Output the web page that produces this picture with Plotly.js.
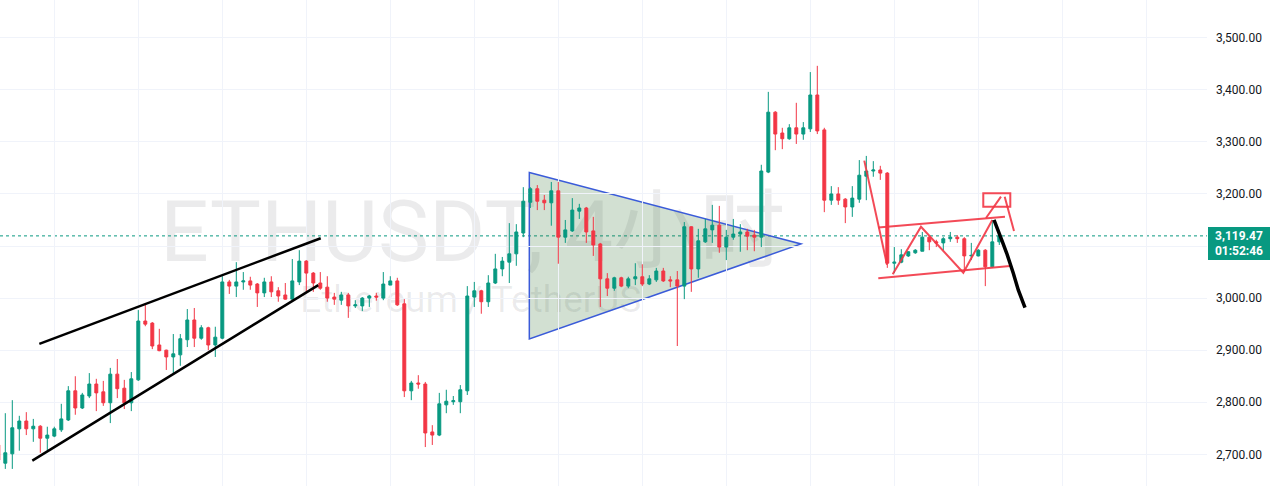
<!DOCTYPE html>
<html>
<head>
<meta charset="utf-8">
<script src="https://cdn.plot.ly/plotly-3.0.1.min.js"></script>
<style>html,body{margin:0;padding:0;background:#fff;}#chart{width:1270px;height:486px;}</style>
</head>
<body>
<div id="chart"></div>
<script>
// ETHUSDT 4h candles (index -1 .. 142)
const openP = [2718,2683,2701,2749,2764,2749,2754,2731,2735,2747,2766,2822,2789,2812,2835,2820,2799,2854,2827,2799,
2843,2956,2952,2910,2900,2887,2891,2920,2958,2923,2943,2910,2923,3031,3023,3031,3033,3027,3010,3031,
3014,3006,2998,3031,3071,3048,3029,3021,3002,2996,3006,2985,2985,3000,3004,3000,3025,3033,2989,2822,
2837,2835,2743,2737,2795,2801,2801,2822,3002,3014,2993,3029,3056,3069,3085,3125,3184,3210,3188,3183,
3206,3117,3129,3167,3173,3129,3104,3037,3019,3039,3023,3037,3041,3027,3035,3052,3035,3035,3023,3137,
3056,3108,3131,3140,3098,3117,3123,3127,3121,3117,3242,3357,3317,3306,3327,3315,3325,3390,3323,3188,
3200,3190,3175,3190,3234,3244,3246,3240,3067,3069,3081,3087,3090,3117,3108,3106,3114,3117,3114,3081,
3081,3092,3060,3108];
const highP = [2728,2779,2804,2774,2781,2768,2756,2753,2753,2797,2831,2850,2818,2856,2845,2841,2866,2883,2843,2858,
2977,2987,2954,2941,2901,2931,2931,2979,2981,2948,2945,2945,3042,3035,3069,3050,3041,3029,3039,3042,
3021,3029,3075,3092,3073,3050,3050,3042,3010,3012,3010,2996,3002,3006,3010,3050,3042,3039,2998,2841,
2852,2839,2756,2818,2824,2812,2833,3023,3031,3016,3044,3085,3079,3144,3142,3213,3213,3217,3198,3223,
3223,3150,3192,3181,3175,3156,3106,3048,3041,3041,3041,3067,3065,3044,3058,3058,3042,3052,3146,3138,
3133,3152,3179,3177,3131,3152,3142,3133,3131,3256,3396,3359,3327,3334,3375,3338,3434,3446,3327,3215,
3213,3192,3215,3265,3273,3263,3254,3242,3098,3094,3090,3094,3127,3119,3112,3117,3127,3121,3117,3106,
3094,3094,3150,3121];
const lowP = [2680,2672,2672,2707,2737,2724,2703,2708,2733,2743,2764,2776,2787,2808,2783,2793,2760,2808,2787,2783,
2841,2946,2902,2898,2862,2856,2870,2906,2906,2920,2900,2887,2921,3008,3002,3016,3016,2983,3002,3002,
2993,2997,2997,3025,3012,3012,3016,2993,2987,2987,2962,2981,2975,2983,2995,2996,3025,2985,2810,2804,
2826,2714,2718,2735,2779,2795,2779,2814,2983,2970,2983,3027,3042,3029,3062,3117,3173,3169,3169,3139,
3066,3106,3127,3152,3106,3081,2983,3004,3014,3021,3019,3025,3023,3025,3031,3031,3021,2908,2998,3012,
3039,3106,3106,3087,3073,3112,3089,3092,3090,3098,3240,3284,3286,3304,3296,3304,3319,3315,3165,3179,
3179,3144,3156,3183,3188,3233,3227,3058,3048,3067,3079,3085,3090,3092,3098,3092,3108,3106,3050,3073,
3080,3023,3058,3102];
const closeP = [2689,2703,2751,2764,2749,2754,2731,2737,2749,2768,2822,2789,2814,2835,2818,2799,2854,2826,2799,2845,
2956,2950,2908,2899,2887,2893,2922,2958,2923,2943,2910,2925,3031,3023,3031,3033,3025,3010,3031,3012,
3004,2998,3033,3071,3048,3029,3019,3000,2998,3006,2985,2987,3000,3004,3002,3027,3033,2987,2822,2837,
2835,2741,2737,2797,2802,2803,2824,3004,3014,2993,3029,3056,3071,3085,3127,3186,3210,3186,3183,3206,
3117,3131,3169,3173,3127,3102,3037,3019,3039,3023,3037,3041,3027,3037,3052,3033,3033,3023,3137,3056,
3110,3133,3140,3098,3117,3123,3127,3119,3117,3244,3357,3315,3306,3327,3315,3327,3390,3321,3188,3200,
3188,3175,3192,3236,3244,3246,3240,3067,3069,3083,3089,3092,3117,3108,3106,3114,3117,3114,3081,3082,
3092,3060,3108,3119.47];
const candleIdx = openP.map((_, i) => i - 1);

const lastPrice = 3119.47;
const lastLabel = "3,119.47";
const countdown = "01:52:46";
const priceTicks = [2700, 2800, 2900, 3000, 3100, 3200, 3300, 3400, 3500];
// the 3,100.00 label sits under the last-price tag, so it is left blank
const priceTickText = ["2,700.00", "2,800.00", "2,900.00", "3,000.00", "", "3,200.00", "3,300.00", "3,400.00", "3,500.00"];
const watermarkTitle = "ETHUSDT, 4小时";
const watermarkSub = "Ethereum / TetherUS";

// drawings (candle index, price)
const wedgeUpper = {x: [4.86, 45.06], y: [2912, 3115]};
const wedgeLower = {x: [3.86, 44.71], y: [2688, 3025]};
const triangle = {x: [74.86, 74.86, 113.67], y: [3241, 2921.5, 3104]};
const steepDrop = {x: [122.71, 125.96], y: [3264, 3064]};
const channelTop = {x: [124.71, 142.81], y: [3135.6, 3156.3]};
const channelBot = {x: [124.71, 143.53], y: [3038.1, 3061.7]};
const zigzag = {x: [126.77, 130.81, 136.86, 141.0], y: [3045.7, 3137.1, 3048.8, 3150]};
const peakMark = {x: [140.1, 142.24, 142.77, 144.1], y: [3153.8, 3194.7, 3194.7, 3128.9]};
const peakBox = {x: [139.71, 143.57], y: [3175.5, 3201.3]};
const forecast = {x: [141.24, 142.34, 143.06, 144.0, 144.71, 145.67], y: [3150, 3111.6, 3086.1, 3047.7, 3015.6, 2981.6]};

function pathOf(p, close) {
  let s = '';
  for (let i = 0; i < p.x.length; i++) s += (i ? ' L' : 'M') + p.x[i] + ',' + p.y[i];
  return close ? s + ' Z' : s;
}

const UP = '#089981', DOWN = '#f23645', RED = 'rgba(242,54,69,0.9)';

const trace = {
  type: 'candlestick',
  x: candleIdx, open: openP, high: highP, low: lowP, close: closeP,
  increasing: {line: {color: UP, width: 1}, fillcolor: UP},
  decreasing: {line: {color: DOWN, width: 1}, fillcolor: DOWN},
  whiskerwidth: 0,
  hoverinfo: 'skip',
  showlegend: false
};

const wmColor = 'rgba(42,46,57,0.095)';
const wmFont = 'Roboto, "Noto Sans CJK SC", sans-serif';

const shapes = [
  {type: 'rect', xref: 'paper', yref: 'paper', x0: 0.2015, x1: 0.5815, y0: 0.44, y1: 0.63, layer: 'below',
   line: {width: 0}, fillcolor: 'rgba(0,0,0,0)',
   label: {text: watermarkTitle, textposition: 'middle center', font: {size: 86, color: wmColor, family: wmFont}}},
  {type: 'rect', xref: 'paper', yref: 'paper', x0: 0.24, x1: 0.54, y0: 0.35, y1: 0.43, layer: 'below',
   line: {width: 0}, fillcolor: 'rgba(0,0,0,0)',
   label: {text: watermarkSub, textposition: 'middle center', font: {size: 37, color: wmColor, family: wmFont}}},
  {type: 'path', xref: 'x', yref: 'y', path: pathOf(triangle, true), layer: 'below',
   fillcolor: 'rgba(60,120,60,0.23)', line: {color: '#3a5bd9', width: 1.5}},
  {type: 'line', xref: 'paper', yref: 'y', x0: 0, x1: 1, y0: lastPrice, y1: lastPrice, layer: 'below',
   line: {color: UP, width: 1, dash: 'dot'}},
  {type: 'path', xref: 'x', yref: 'y', path: pathOf(wedgeUpper), line: {color: '#000', width: 2.5}},
  {type: 'path', xref: 'x', yref: 'y', path: pathOf(wedgeLower), line: {color: '#000', width: 2.5}},
  {type: 'path', xref: 'x', yref: 'y', path: pathOf(steepDrop), line: {color: RED, width: 2}},
  {type: 'path', xref: 'x', yref: 'y', path: pathOf(channelTop), line: {color: RED, width: 2}},
  {type: 'path', xref: 'x', yref: 'y', path: pathOf(channelBot), line: {color: RED, width: 2}},
  {type: 'path', xref: 'x', yref: 'y', path: pathOf(zigzag), line: {color: RED, width: 2}},
  {type: 'path', xref: 'x', yref: 'y', path: 'M' + peakMark.x[0] + ',' + peakMark.y[0] + ' L' + peakMark.x[1] + ',' + peakMark.y[1] +
     ' M' + peakMark.x[2] + ',' + peakMark.y[2] + ' L' + peakMark.x[3] + ',' + peakMark.y[3], line: {color: RED, width: 2}},
  {type: 'rect', xref: 'x', yref: 'y', x0: peakBox.x[0], x1: peakBox.x[1], y0: peakBox.y[0], y1: peakBox.y[1],
   line: {color: RED, width: 2}, fillcolor: 'rgba(0,0,0,0)'},
  {type: 'path', xref: 'x', yref: 'y', path: pathOf(forecast), line: {color: '#000', width: 3.5}}
];

const layout = {
  width: 1270, height: 486,
  margin: {l: 0, r: 63, t: 0, b: 0, pad: 0},
  paper_bgcolor: '#ffffff', plot_bgcolor: '#ffffff',
  showlegend: false,
  boxgap: 0.4,
  font: {family: 'Roboto, "Liberation Sans", sans-serif', size: 12, color: '#131722'},
  xaxis: {
    range: [-0.757, 171.67], showticklabels: false, ticks: '',
    tick0: 7, dtick: 12, showgrid: true, gridcolor: '#f0f3fa', gridwidth: 1,
    zeroline: false, showline: false, rangeslider: {visible: false}, fixedrange: true
  },
  yaxis: {
    side: 'right', range: [2639.2, 3572.4], tickmode: 'array', tickvals: priceTicks, ticktext: priceTickText,
    showgrid: true, gridcolor: '#f0f3fa', gridwidth: 1, zeroline: false, showline: false,
    ticks: '', ticklabelstandoff: 8, tickfont: {size: 12, color: '#131722'}, fixedrange: true
  },
  shapes: shapes,
  annotations: [{
    xref: 'paper', yref: 'y', x: 1, y: lastPrice, xanchor: 'left', yanchor: 'middle', yshift: -8, xshift: 1,
    text: '<b>' + lastLabel + '</b><br><b>' + countdown + '</b>', showarrow: false,
    bgcolor: UP, bordercolor: UP, borderpad: 2, width: 56, height: 27, align: 'center',
    font: {color: '#ffffff', size: 12, family: 'Roboto, "Liberation Sans", sans-serif'}
  }]
};

Plotly.newPlot('chart', [trace], layout, {staticPlot: true, displayModeBar: false});
</script>
</body>
</html>
